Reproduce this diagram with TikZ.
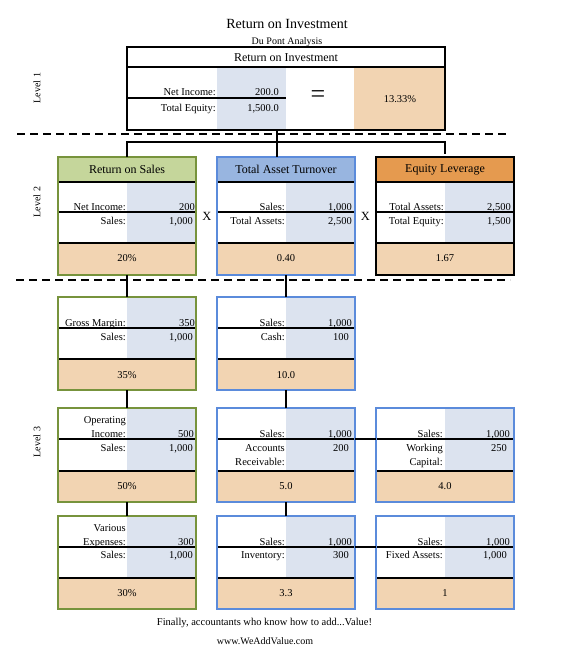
\documentclass[tikz,border=0pt]{standalone}
\usepackage{fontspec}
\setmainfont{Liberation Serif}
\definecolor{colblue}{HTML}{DCE3EF}
\definecolor{respeach}{HTML}{F2D4B2}
\definecolor{hdrgreen}{HTML}{C5D69B}
\definecolor{bordgreen}{HTML}{77933C}
\definecolor{hdrblue}{HTML}{98B5E0}
\definecolor{bordblue}{HTML}{5B8BDB}
\definecolor{hdrorange}{HTML}{E59A4F}
\newcommand\panelbody[5]{%
  \fill[white] (#1,#2) rectangle ({#1+138},#5);
  \fill[colblue] ({#1+69},#2) rectangle ({#1+138},#4);
  \fill[respeach] (#1,#4) rectangle ({#1+138},#5);
  \draw[rule] (#1,#3) -- ({#1+138},#3);
  \draw[rule] (#1,#4) -- ({#1+138},#4);
}
\begin{document}
\begin{tikzpicture}[x=1pt,y=-1pt,
  rule/.style={line width=1.3pt},
  conn/.style={line width=1.8pt},
  dashline/.style={line width=2pt, dash pattern=on 8pt off 5pt},
  frame/.style={draw, line width=2.7pt, minimum width=138pt, inner sep=0pt, outer sep=0pt},
  lab/.style={anchor=base east, inner sep=0pt, font=\fontsize{10.5}{12}\selectfont},
  val/.style={anchor=base east, inner sep=0pt, font=\fontsize{10.5}{12}\selectfont},
  res/.style={inner sep=0pt, font=\fontsize{10.5}{12}\selectfont},
  hdr/.style={inner sep=0pt, font=\fontsize{12}{14}\selectfont},
  lvl/.style={rotate=90, inner sep=0pt, font=\fontsize{10}{12}\selectfont},
  times/.style={inner sep=0pt, font=\fontsize{12.5}{14}\selectfont}]
\useasboundingbox (0,0) rectangle (560,647);
\fill[white] (0,0) rectangle (560,647);

% titles
\node[inner sep=0pt, anchor=base, font=\fontsize{14}{16}\selectfont] (title) at (287,29) {Return on Investment};
\node[inner sep=0pt, anchor=base, font=\fontsize{10}{12}\selectfont] (subtitle) at (287,44.5) {Du Pont Analysis};

% level labels
\node[lvl] (l1) at (37,88) {Level 1};
\node[lvl] (l2) at (37,202) {Level 2};
\node[lvl] (l3) at (37,442) {Level 3};

% dashed separators
\coordinate (d1a) at (17,134.5);
\coordinate (d1b) at (510,134.5);
\coordinate (d2a) at (16,279.5);
\coordinate (d2b) at (510,279.5);

% ---------- Level 1 ----------
\fill[white] (127,47) rectangle (445,130);
\fill[colblue] (217,67) rectangle (286,130);
\fill[respeach] (354,67) rectangle (445,130);
\draw[line width=1.8pt] (127,67) -- (445,67);
\draw[rule] (127,98) -- (286,98);
\node[hdr] (roihdr) at (286,57.5) {Return on Investment};
\node[lab] (roil1) at (216,95.5) {Net Income:};
\node[val] (roiv1) at (279,95.5) {200.0};
\node[lab] (roil2) at (216,111.5) {Total Equity:};
\node[val] (roiv2) at (279,111.5) {1,500.0};
\node[inner sep=0pt, font=\fontsize{26}{26}\selectfont] (eq) at (318,97) {=};
\node[res] (roir) at (400,99) {13.33\%};
\node[frame, minimum width=318pt, minimum height=83pt] (roi) at (286,88.5) {};

% ---------- Level 2 ----------
% Return on Sales
\panelbody{58}{182}{212}{243}{275}
\fill[hdrgreen] (58,157) rectangle (196,182);
\draw[rule] (58,182) -- (196,182);
\node[hdr] (roshdr) at (127,169.5) {Return on Sales};
\node[lab] at (126,210.5) {Net Income:};
\node[val] at (195,210.5) {200};
\node[lab] at (126,224) {Sales:};
\node[val] at (193,224) {1,000};
\node[res] at (127,258.5) {20\%};
\node[frame, draw=bordgreen, minimum height=118pt] (ros) at (127,216) {};

% Total Asset Turnover
\panelbody{217}{182}{212}{243}{275}
\fill[hdrblue] (217,157) rectangle (355,182);
\draw[rule] (217,182) -- (355,182);
\node[hdr] (tathdr) at (286,169.5) {Total Asset Turnover};
\node[lab] at (285,210.5) {Sales:};
\node[val] at (352,210.5) {1,000};
\node[lab] at (285,224) {Total Assets:};
\node[val] at (352,224) {2,500};
\node[res] at (286,258.5) {0.40};
\node[frame, draw=bordblue, minimum height=118pt] (tat) at (286,216) {};

% Equity Leverage
\panelbody{376}{182}{212}{243}{275}
\fill[hdrorange] (376,157) rectangle (514,182);
\draw[rule] (376,182) -- (514,182);
\node[hdr] (elhdr) at (445,169.5) {Equity Leverage};
\node[lab] at (444,210.5) {Total Assets:};
\node[val] at (511,210.5) {2,500};
\node[lab] at (444,224) {Total Equity:};
\node[val] at (511,224) {1,500};
\node[res] at (445,258.5) {1.67};
\node[frame, draw=black, minimum height=118pt] (el) at (445,216) {};

\node[times] (x1) at (207,216) {X};
\node[times] (x2) at (365.5,216) {X};

% ---------- Level 3 row A ----------
\panelbody{58}{297}{328}{359}{390}
\node[lab] at (126,326) {Gross Margin:};
\node[val] at (195,326) {350};
\node[lab] at (126,340) {Sales:};
\node[val] at (193,340) {1,000};
\node[res] at (127,375) {35\%};
\node[frame, draw=bordgreen, minimum height=93pt] (gm) at (127,343.5) {};

\panelbody{217}{297}{328}{359}{390}
\node[lab] at (285,326) {Sales:};
\node[val] at (352,326) {1,000};
\node[lab] at (285,340) {Cash:};
\node[val] at (349,340) {100};
\node[res] at (286,375) {10.0};
\node[frame, draw=bordblue, minimum height=93pt] (cash) at (286,343.5) {};

% ---------- Level 3 row B ----------
\panelbody{58}{408}{439}{471}{502}
\node[lab] at (126,423) {Operating};
\node[lab] at (126,437) {Income:};
\node[val] at (194,437) {500};
\node[lab] at (126,451) {Sales:};
\node[val] at (193,451) {1,000};
\node[res] at (127,486.5) {50\%};
\node[frame, draw=bordgreen, minimum height=94pt] (oi) at (127,455) {};

\panelbody{217}{408}{439}{471}{502}
\node[lab] at (285,437) {Sales:};
\node[val] at (352,437) {1,000};
\node[lab] at (285,451) {Accounts};
\node[lab] at (285,465.5) {Receivable:};
\node[val] at (349,451) {200};
\node[res] at (286,486.5) {5.0};
\node[frame, draw=bordblue, minimum height=94pt] (ar) at (286,455) {};

\panelbody{376}{408}{439}{471}{502}
\node[lab] at (443,437) {Sales:};
\node[val] at (510,437) {1,000};
\node[lab] at (443,451) {Working};
\node[lab] at (443,465.5) {Capital:};
\node[val] at (507,451) {250};
\node[res] at (445,486.5) {4.0};
\node[frame, draw=bordblue, minimum height=94pt] (wc) at (445,455) {};

% ---------- Level 3 row C ----------
\panelbody{58}{516}{547}{578}{609}
\node[lab] at (126,531) {Various};
\node[lab] at (126,545) {Expenses:};
\node[val] at (194,545) {300};
\node[lab] at (126,558.5) {Sales:};
\node[val] at (193,558.5) {1,000};
\node[res] at (127,593.5) {30\%};
\node[frame, draw=bordgreen, minimum height=93pt] (ve) at (127,562.5) {};

\panelbody{217}{516}{547}{578}{609}
\node[lab] at (285,545) {Sales:};
\node[val] at (352,545) {1,000};
\node[lab] at (285,558.5) {Inventory:};
\node[val] at (349,558.5) {300};
\node[res] at (286,593.5) {3.3};
\node[frame, draw=bordblue, minimum height=93pt] (inv) at (286,562.5) {};

\panelbody{376}{516}{547}{578}{609}
\node[lab] at (443,545) {Sales:};
\node[val] at (510,545) {1,000};
\node[lab] at (443,558.5) {Fixed Assets:};
\node[val] at (507,558.5) {1,000};
\node[res] at (445,593.5) {1};
\node[frame, draw=bordblue, minimum height=93pt] (fa) at (445,562.5) {};

% ---------- connectors ----------
\coordinate (j1) at (277,142);
\coordinate (bdiv) at (0,439);
\coordinate (cdiv) at (0,547);
\draw[conn] (roi.south -| j1) -- (tat.north -| j1);
\draw[conn] (ros.north) |- (j1) -| ([yshift=3pt]el.north);
\draw[conn] (ros.south) -- (gm.north);
\draw[conn] (tat.south) -- (cash.north);
\draw[conn] (gm.south) -- (oi.north);
\draw[conn] (cash.south) -- (ar.north);
\draw[conn] (oi.south) -- (ve.north);
\draw[conn] (ar.south) -- (inv.north);
\draw[conn] (ar.east |- bdiv) -- (wc.west |- bdiv);
\draw[conn] (inv.east |- cdiv) -- (fa.west |- cdiv);

% dashed lines
\draw[dashline] (d1a) -- (d1b);
\draw[dashline] (d2a) -- (d2b);

% footer
\node[inner sep=0pt, anchor=base, font=\fontsize{10.5}{12}\selectfont] (foot1) at (264.5,625.5) {Finally, accountants who know how to add...Value!};
\node[inner sep=0pt, anchor=base, font=\fontsize{10}{12}\selectfont] (foot2) at (265,644) {www.WeAddValue.com};
\end{tikzpicture}
\end{document}
